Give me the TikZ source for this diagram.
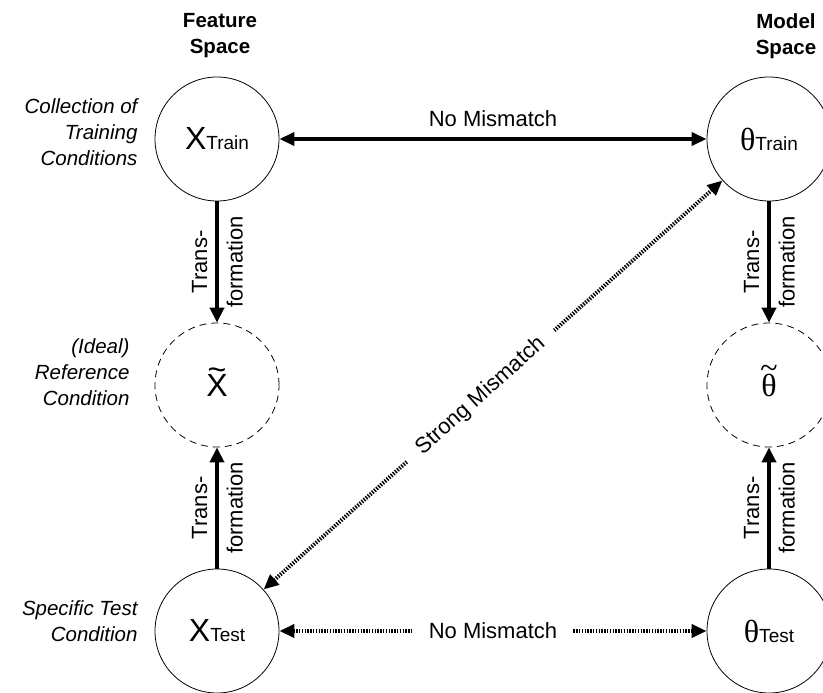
\documentclass[tikz,border=0pt]{standalone}
\usepackage{fontspec}
\setmainfont{Liberation Sans}
\newfontfamily\greekf{Liberation Serif}
\usetikzlibrary{arrows.meta}
% a wide tilde set centred above a glyph
\newcommand{\widetil}[2]{\ooalign{#2\cr\hidewidth\raisebox{#1}{\textasciitilde}\hidewidth\cr}}
\begin{document}
\begin{tikzpicture}[x={(1pt,0pt)},y={(0pt,-1pt)},
  state/.style={circle,draw,line width=0.8pt,minimum size=124pt,inner sep=0pt,
    font=\fontsize{32}{32}\selectfont},
  ideal/.style={state,dash pattern=on 7pt off 5pt},
  solidarrow/.style={line width=4.5pt,-{Triangle[length=15pt,width=14pt]}},
  bisolid/.style={line width=3.5pt,{Triangle[length=15pt,width=13pt]}-{Triangle[length=15pt,width=13pt]}},
  hatched/.style={line width=4pt,dash pattern=on 1.4pt off 1.4pt,
    {Triangle[length=15pt,width=13pt]}-{Triangle[length=15pt,width=13pt]}},
  lbl/.style={font=\fontsize{22}{22}\selectfont},
  gaplbl/.style={lbl,fill=white,inner xsep=16pt,inner ysep=6pt},
  head/.style={font=\fontsize{20.5}{26}\selectfont\bfseries,align=center},
  side/.style={font=\fontsize{20.5}{26}\selectfont\itshape,align=right,anchor=east}]
\useasboundingbox (0,0) rectangle (823,693);

% column headings
\node[head] (hf) at (220,36) {Feature\\Space};
\node[head] (hm) at (786,36) {Model\\Space};

% row descriptions
\node[side] (d1) at (141,132) {Collection of\\Training\\Conditions};
\node[side] (d2) at (133,372) {(Ideal)\\Reference\\Condition};
\node[side] (d3) at (141,621) {Specific Test\\Condition};

% states
\newcommand{\subtxt}[1]{{\fontsize{19}{19}\selectfont #1}}
\node[state] (xtr) at (217,139) {X\subtxt{Train}};
\node[ideal] (xid) at (217,385) {\widetil{0.5em}{X}};
\node[state] (xte) at (217,631) {X\subtxt{Test}};
\node[state] (ttr) at (769,139) {{\greekf θ}\subtxt{Train}};
\node[ideal] (tid) at (769,385) {{\greekf\widetil{0.55em}{θ}}};
\node[state] (tte) at (769,631) {{\greekf θ}\subtxt{Test}};

% transformations towards the reference condition
\draw[solidarrow] (xtr) -- (xid)
  node[midway,lbl,rotate=90,above=4pt] {Trans-}
  node[midway,lbl,rotate=90,below=4pt] {formation};
\draw[solidarrow] (xte) -- (xid)
  node[midway,lbl,rotate=90,above=4pt] {Trans-}
  node[midway,lbl,rotate=90,below=4pt] {formation};
\draw[solidarrow] (ttr) -- (tid)
  node[midway,lbl,rotate=90,above=4pt] {Trans-}
  node[midway,lbl,rotate=90,below=4pt] {formation};
\draw[solidarrow] (tte) -- (tid)
  node[midway,lbl,rotate=90,above=4pt] {Trans-}
  node[midway,lbl,rotate=90,below=4pt] {formation};

% mismatch relations
\draw[bisolid] (xtr) -- (ttr) node[midway,lbl,above=7pt] {No Mismatch};
\draw[hatched] (xte) -- (tte) node[pos=0.5,gaplbl] {No Mismatch};
\draw[hatched] (xte) -- (ttr) node[pos=0.473,gaplbl,sloped] {Strong Mismatch};
\end{tikzpicture}
\end{document}
